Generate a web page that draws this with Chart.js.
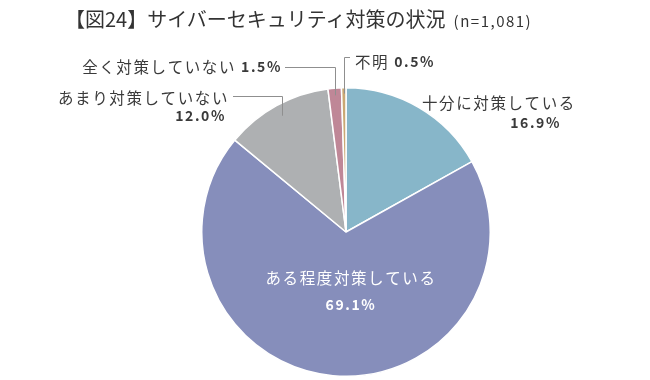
<!DOCTYPE html>
<html>
<head>
<meta charset="utf-8">
<script src="https://cdn.jsdelivr.net/npm/chart.js@4/dist/chart.umd.min.js"></script>
<style>
  html, body { margin: 0; padding: 0; background: #ffffff; }
  #wrap { position: relative; width: 650px; height: 380px; }
  #title { position: absolute; left: 65px; top: 4px; font-family: "Noto Sans CJK JP", sans-serif; color: #333; font-size: 20px; white-space: nowrap; }
  #title small { font-size: 15px; margin-left: 8px; letter-spacing: 1.5px; }
  canvas { position: absolute; left: 0; top: 0; }
</style>
</head>
<body>
<div id="wrap">
  <canvas id="c" width="650" height="380"></canvas>
  <div id="title">【図24】サイバーセキュリティ対策の状況<small>(n=1,081)</small></div>
</div>
<script>
// ---- data ----
const categories = ["十分に対策している", "ある程度対策している", "あまり対策していない", "全く対策していない", "不明"];
const values = [16.9, 69.1, 12.0, 1.5, 0.5];
const valueLabels = ["16.9%", "69.1%", "12.0%", "1.5%", "0.5%"];
const colors = ["#87b6c9", "#868ebb", "#aeb0b2", "#bf8797", "#caa874"];

// ---- label layout (offsets from pie centre) ----
const FONT = '"Noto Sans CJK JP", sans-serif';
const labelLayout = [
  { type: "outside2", name: { dx: 76, dy: -129, align: "left" }, pct: { dx: 215, dy: -109, align: "right" } },
  { type: "inside", name: { dx: 5, dy: 46 }, pct: { dx: 5, dy: 73 } },
  { type: "leader2", name: { dx: -117, dy: -134, align: "right" }, pct: { dx: -120, dy: -116, align: "right" }, lineY: -136, lineX0: -113, depth: 0.92 },
  { type: "leader1", dx: -64, dy: -165, align: "right", lineY: -165, lineX0: -61, depth: 0.95 },
  { type: "leaderUp", dx: 9, dy: -170, align: "left", lineY: -175, lineX1: 4, depth: 0.96 }
];

const labelPlugin = {
  id: "pieLabels",
  afterDraw(chart) {
    const ctx = chart.ctx;
    const meta = chart.getDatasetMeta(0);
    const nameFont = "400 15.5px " + FONT;
    const pctFont = "700 14px " + FONT;
    const textCol = "#3a3a3a";
    const lineCol = "#8f8f8f";
    ctx.save();
    ctx.textBaseline = "middle";
    ctx.letterSpacing = "1.6px";
    meta.data.forEach((arc, i) => {
      const cx = arc.x, cy = arc.y, R = arc.outerRadius;
      const mid = (arc.startAngle + arc.endAngle) / 2;
      const L = labelLayout[i];
      const pt = f => ({ x: cx + Math.cos(mid) * R * f, y: cy + Math.sin(mid) * R * f });
      if (L.type === "inside") {
        ctx.fillStyle = "#ffffff";
        ctx.textAlign = "center";
        ctx.font = nameFont;
        ctx.fillText(categories[i], cx + L.name.dx, cy + L.name.dy);
        ctx.font = pctFont;
        ctx.fillText(valueLabels[i], cx + L.pct.dx, cy + L.pct.dy);
        return;
      }
      ctx.fillStyle = textCol;
      if (L.type === "outside2" || L.type === "leader2") {
        ctx.font = nameFont;
        ctx.textAlign = L.name.align;
        ctx.fillText(categories[i], cx + L.name.dx, cy + L.name.dy);
        ctx.font = pctFont;
        ctx.textAlign = L.pct.align;
        ctx.fillText(valueLabels[i], cx + L.pct.dx, cy + L.pct.dy);
      }
      if (L.type === "leader1") {
        ctx.textAlign = "right";
        ctx.font = pctFont;
        const pw = ctx.measureText(valueLabels[i]).width;
        ctx.fillText(valueLabels[i], cx + L.dx, cy + L.dy);
        ctx.font = nameFont;
        ctx.fillText(categories[i], cx + L.dx - pw - 5, cy + L.dy);
      }
      if (L.type === "leaderUp") {
        ctx.textAlign = "left";
        ctx.font = nameFont;
        const nw = ctx.measureText(categories[i]).width;
        ctx.fillText(categories[i], cx + L.dx, cy + L.dy);
        ctx.font = pctFont;
        ctx.fillText(valueLabels[i], cx + L.dx + nw + 5, cy + L.dy);
      }
      if (L.type === "leader2" || L.type === "leader1") {
        const p = pt(L.depth);
        ctx.strokeStyle = lineCol;
        ctx.lineWidth = 1;
        ctx.beginPath();
        ctx.moveTo(cx + L.lineX0, cy + L.lineY + 0.5);
        ctx.lineTo(Math.round(p.x) + 0.5, cy + L.lineY + 0.5);
        ctx.lineTo(Math.round(p.x) + 0.5, p.y);
        ctx.stroke();
      }
      if (L.type === "leaderUp") {
        const p = pt(L.depth);
        ctx.strokeStyle = lineCol;
        ctx.lineWidth = 1;
        ctx.beginPath();
        ctx.moveTo(Math.round(p.x) + 0.5, p.y);
        ctx.lineTo(Math.round(p.x) + 0.5, cy + L.lineY + 0.5);
        ctx.lineTo(cx + L.lineX1, cy + L.lineY + 0.5);
        ctx.stroke();
      }
    });
    ctx.restore();
  }
};

new Chart(document.getElementById("c"), {
  type: "pie",
  data: {
    labels: categories,
    datasets: [{
      data: values,
      backgroundColor: colors,
      borderColor: "#ffffff",
      borderWidth: 1.5
    }]
  },
  options: {
    responsive: false,
    animation: false,
    layout: { padding: { top: 87, bottom: 3, left: 201, right: 159 } },
    plugins: { legend: { display: false }, tooltip: { enabled: false }, title: { display: false } }
  },
  plugins: [labelPlugin]
});
</script>
</body>
</html>
